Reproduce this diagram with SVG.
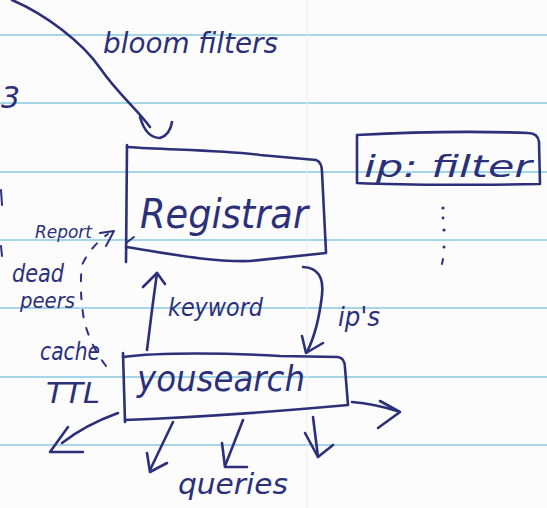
<svg xmlns="http://www.w3.org/2000/svg" width="547" height="508" viewBox="0 0 547 508">
<defs>
<style>
.ruled{stroke:#86c9df;stroke-width:1.6;fill:none}
.ink{stroke:#2b3079;stroke-width:2.6;fill:none;stroke-linecap:round;stroke-linejoin:round}
.thin{stroke:#2b3079;stroke-width:2;fill:none;stroke-linecap:round;stroke-linejoin:round}
.dash{stroke:#2b3079;stroke-width:2;fill:none;stroke-dasharray:7 11;stroke-linecap:round}
.t{fill:#2b3079;font-family:"DejaVu Sans","Liberation Sans",sans-serif;font-style:italic}
</style>
</defs>
<rect width="547" height="508" fill="#fcfcfc"/>
<g id="paper">
<path class="ruled" d="M0 35H547M0 103H547M0 172H547M0 240H547M0 308H547M0 377H547M0 445H547"/>
<path d="M307 0V508" stroke="#ececec" stroke-width="1"/>
</g>
<g id="connectors">
<g id="bloom-arrow">
<path class="ink" d="M12 0 C45 14 82 42 100 68 S136 108 150 127"/>
<path class="ink" d="M140 117 Q146 138 160 138 Q170 135 172 122"/>
</g>
<g id="keyword-arrow">
<path class="ink" d="M147 350 L152 310 L157 273"/>
<path class="ink" d="M143 287 L157 273 L165 284"/>
</g>
<g id="ips-arrow">
<path class="ink" d="M303 267 Q325 268 322 295 Q318 330 307 352"/>
<path class="ink" d="M302 336 L306 353 L323 343"/>
</g>
<g id="report-arrow">
<path class="dash" d="M106 366 Q90 345 84 320 Q79 290 82 265 Q90 247 108 234"/>
<path class="thin" d="M100 233 L114 231 L106 246"/>
<path class="thin" d="M126 243 L134 237"/>
</g>
<g id="query-arrows">
<path class="ink" d="M118 413 Q85 425 62 443"/>
<path class="ink" d="M68 427 L50 452 L83 452"/>
<path class="ink" d="M173 422 L150 470"/>
<path class="ink" d="M147 453 L150 472 L167 463"/>
<path class="ink" d="M243 420 L225 466"/>
<path class="ink" d="M222 443 L225 467 L247 467"/>
<path class="ink" d="M313 417 L318 457"/>
<path class="ink" d="M305 433 L318 457 L333 445"/>
<path class="ink" d="M352 402 Q375 404 397 411"/>
<path class="ink" d="M380 401 L400 412 L378 428"/>
</g>
</g>
<g id="registrar">
<path class="ink" d="M127 145 L126 262"/>
<path class="ink" d="M127 147 C170 150 220 150 260 155 L316 160 Q322 162 322 172 L326 252"/>
<path class="ink" d="M126 247 C170 254 210 262 250 261 L326 253"/>
<text class="t" x="140" y="228" font-size="40" textLength="168" lengthAdjust="spacingAndGlyphs">Registrar</text>
</g>
<g id="ip-filter">
<path class="ink" d="M357 135 L357 183 Q420 186 540 184 L539 142 Q538 133 528 133 Q450 130 357 135"/>
<text class="t" x="364" y="177" font-size="31" textLength="168" lengthAdjust="spacingAndGlyphs">ip: filter</text>
<g fill="#2b3079">
<circle cx="443" cy="208" r="1.6"/>
<circle cx="443" cy="218" r="1.4"/>
<circle cx="444" cy="230" r="1.6"/>
<circle cx="444" cy="247" r="1.5"/>
<path class="thin" d="M443 259 L442 264"/>
</g>
</g>
<g id="yousearch">
<path class="ink" d="M123 353 L125 422"/>
<path class="ink" d="M123 357 C160 352 230 353 280 356 L338 357 Q345 358 345 368 L348 405"/>
<path class="ink" d="M125 420 C180 418 260 413 348 405"/>
<text class="t" x="137" y="391" font-size="36" textLength="168" lengthAdjust="spacingAndGlyphs">yousearch</text>
</g>
<g id="labels">
<text class="t" x="103" y="53" font-size="28" textLength="175" lengthAdjust="spacingAndGlyphs">bloom filters</text>
<text class="t" x="1" y="108" font-size="30">3</text>
<text class="t" x="168" y="316" font-size="24" textLength="95" lengthAdjust="spacingAndGlyphs">keyword</text>
<text class="t" x="338" y="326" font-size="27" textLength="42" lengthAdjust="spacingAndGlyphs">ip's</text>
<text class="t" x="35" y="238" font-size="18" textLength="57" lengthAdjust="spacingAndGlyphs">Report</text>
<text class="t" x="12" y="282" font-size="25" textLength="52" lengthAdjust="spacingAndGlyphs">dead</text>
<text class="t" x="20" y="308" font-size="22" textLength="55" lengthAdjust="spacingAndGlyphs">peers</text>
<text class="t" x="40" y="360" font-size="24" textLength="60" lengthAdjust="spacingAndGlyphs">cache</text>
<text class="t" x="46" y="403" font-size="29" textLength="54" lengthAdjust="spacingAndGlyphs">TTL</text>
<text class="t" x="178" y="494" font-size="28" textLength="110" lengthAdjust="spacingAndGlyphs">queries</text>
<path class="thin" d="M1 190 L2 205 M1 246 L2 256"/>
</g>
</svg>
